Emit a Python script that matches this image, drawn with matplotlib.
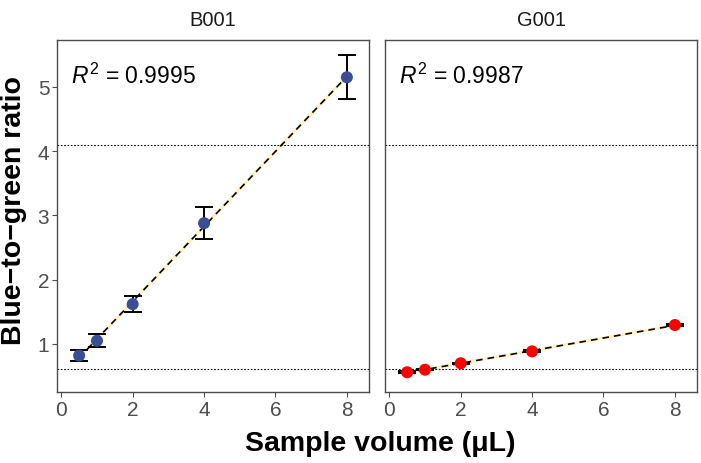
import numpy as np
import matplotlib
matplotlib.use("Agg")
import matplotlib.pyplot as plt

plt.rcParams['font.family'] = ['Liberation Sans', 'DejaVu Sans']
plt.rcParams['mathtext.fontset'] = 'custom'
plt.rcParams['mathtext.rm'] = 'Liberation Sans'
plt.rcParams['mathtext.it'] = 'Liberation Sans:italic'
plt.rcParams['mathtext.bf'] = 'Liberation Sans:bold'

volume = [0.5, 1, 2, 4, 8]
panels = ["B001", "G001"]
b001_ratio = [0.82, 1.05, 1.62, 2.88, 5.15]
b001_err = [0.08, 0.10, 0.13, 0.25, 0.34]
g001_ratio = [0.56, 0.60, 0.70, 0.885, 1.295]
g001_err = [0.012, 0.012, 0.012, 0.015, 0.015]
r2_labels = ["0.9995", "0.9987"]
colors = ["#3C4E93", "#FF0000"]
hlines = [4.1, 0.61]
xticks = [0, 2, 4, 6, 8]
yticks = [1, 2, 3, 4, 5]

fig = plt.figure(figsize=(7.01, 4.64), dpi=100)
W, H = 701, 464
axes_px = [(57, 41, 369, 393), (385, 41, 697, 393)]
data = [(b001_ratio, b001_err), (g001_ratio, g001_err)]
gray = "#4D4D4D"

for i, (x0, y0, x1, y1) in enumerate(axes_px):
    ax = fig.add_axes([x0 / W, 1 - y1 / H, (x1 - x0) / W, (y1 - y0) / H])
    y, e = data[i]
    x = np.array(volume, float)
    yy = np.array(y, float)
    slope, icpt = np.polyfit(x, yy, 1)
    xl = np.array([x.min(), x.max()])
    ax.plot(xl, slope * xl + icpt, color="#FFF1BF", lw=2.2, zorder=1)
    ax.plot(xl, slope * xl + icpt, color="black", lw=1.2, ls=(0, (4, 3)), zorder=2)
    for h in hlines:
        ax.axhline(h, color="black", lw=0.8, ls=(0, (1.5, 1.5)), zorder=1)
    ax.errorbar(x, yy, yerr=e, fmt="none", ecolor="black", elinewidth=1.4,
                capsize=0, zorder=3)
    for xi, yi, ei in zip(x, yy, e):
        for yc in (yi - ei, yi + ei):
            ax.plot([xi - 0.225, xi + 0.225], [yc, yc], color="black", lw=1.4, zorder=3)
    ax.scatter(x, yy, s=75, color=colors[i], zorder=4, edgecolors="none")
    ax.set_xlim(-0.12, 8.62)
    ax.set_ylim(0.253, 5.73)
    ax.set_xticks(xticks)
    ax.set_xticklabels([str(t) for t in xticks])
    ax.set_yticks(yticks)
    ax.tick_params(colors=gray, labelcolor=gray, labelsize=15, width=0.8, length=3.5, pad=2)
    if i == 0:
        ax.set_yticklabels([str(t) for t in yticks])
    else:
        ax.set_yticklabels([])
        ax.tick_params(axis="y", length=0, width=0)
    for sp in ax.spines.values():
        sp.set_color(gray)
        sp.set_linewidth(1.0)
    ax.text(0.045, 0.877, r"$R^2$ = " + r2_labels[i], transform=ax.transAxes,
            fontsize=16.5, va="baseline", ha="left")
    ax.set_title(panels[i], fontsize=14.5, color="#1A1A1A", pad=11)

fig.text(380 / W, 1 - 444 / H, "Sample volume (μL)", ha="center", va="center",
         fontsize=20.5, fontweight="bold")
fig.text(14 / W, 1 - 211 / H, "Blue\u2212to\u2212green ratio", ha="center", va="center",
         rotation=90, fontsize=20.5, fontweight="bold")

fig.savefig("out.png", dpi=100)
